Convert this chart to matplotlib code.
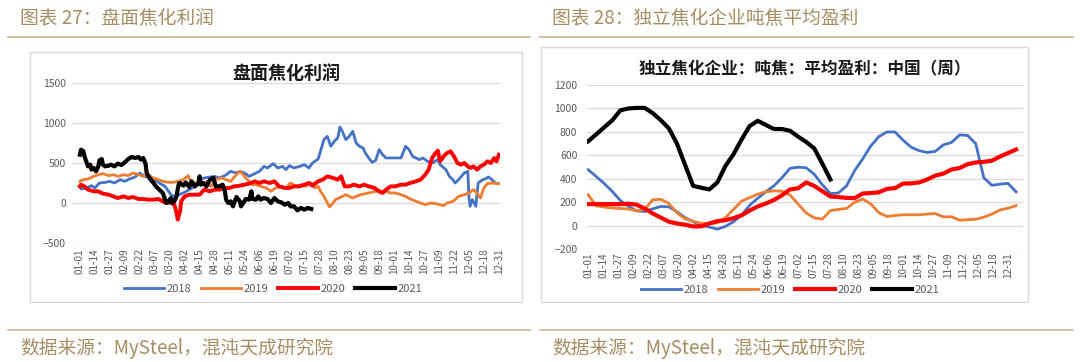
import matplotlib.pyplot as plt
from matplotlib.patches import Rectangle
from matplotlib.lines import Line2D

plt.rcParams['font.family'] = ['Noto Sans CJK SC', 'DejaVu Sans']

# ---------------------------------------------------------------------------
# 数据
# ---------------------------------------------------------------------------
tick_days = list(range(0, 365, 13))
tick_labels = ['01-01', '01-14', '01-27', '02-09', '02-22', '03-07', '03-20', '04-02',
               '04-15', '04-28', '05-11', '05-24', '06-06', '06-19', '07-02', '07-15',
               '07-28', '08-10', '08-23', '09-05', '09-18', '10-01', '10-14', '10-27',
               '11-09', '11-22', '12-05', '12-18', '12-31']
years = ['2018', '2019', '2020', '2021']
colors = ['#4472C4', '#ED7D31', '#FF0000', '#000000']

# 图27 盘面焦化利润 (日度)
pm18_day = [0, 1, 6, 10, 13, 17, 22, 26, 30, 35, 39, 43, 48, 52, 56, 61, 65, 69, 74, 77,
            79, 82, 86, 91, 95, 100, 104, 108, 113, 117, 121, 126, 131, 136, 139, 143, 147,
            152, 156, 160, 163, 168, 172, 176, 179, 182, 186, 191, 195, 199, 202, 207, 209,
            212, 215, 218, 221, 224, 226, 228, 231, 234, 237, 240, 243, 246, 248, 251, 254,
            257, 260, 263, 266, 270, 274, 279, 283, 286, 289, 292, 295, 298, 302, 306, 311,
            313, 318, 321, 324, 326, 329, 334, 337, 338, 339, 341, 344, 346, 350, 352, 355,
            358, 361, 364]
pm18_val = [208, 175, 188, 217, 188, 250, 258, 271, 250, 292, 271, 300, 325, 375, 333, 313,
            292, 250, 208, 146, 104, 83, 104, 133, 167, 208, 292, 313, 325, 333, 313, 342,
            396, 375, 396, 375, 333, 367, 396, 458, 438, 492, 438, 458, 417, 467, 438, 458,
            479, 438, 500, 550, 646, 792, 833, 708, 771, 813, 950, 896, 792, 833, 896, 750,
            708, 688, 625, 563, 508, 533, 667, 604, 563, 563, 563, 563, 708, 667, 583, 563,
            542, 563, 521, 500, 542, 479, 417, 333, 292, 250, 292, 375, 396, 83, -42, 42,
            -42, 250, 292, 300, 325, 292, 250, 242]

pm19_day = [0, 3, 7, 12, 16, 20, 25, 29, 33, 38, 42, 46, 51, 55, 59, 64, 68, 72, 77, 81,
            85, 90, 94, 97, 101, 105, 110, 114, 118, 123, 127, 131, 136, 139, 142, 144, 147,
            150, 153, 157, 162, 166, 170, 175, 179, 183, 188, 192, 196, 201, 204, 207, 209,
            212, 215, 217, 220, 222, 225, 228, 231, 234, 237, 240, 244, 248, 253, 257, 261,
            266, 270, 274, 279, 283, 287, 292, 296, 300, 305, 309, 313, 316, 319, 324, 326,
            329, 334, 338, 342, 345, 348, 351, 354, 358, 364]
pm19_val = [271, 292, 300, 333, 354, 367, 342, 354, 333, 354, 342, 375, 354, 333, 354, 313,
            292, 271, 258, 258, 271, 292, 342, 250, 250, 229, 271, 208, 292, 313, 292, 271,
            354, 396, 354, 313, 271, 229, 229, 208, 188, 146, 188, 208, 188, 250, 208, 229,
            208, 250, 188, 208, 146, 83, 0, -50, 0, 42, 62, 83, 104, 83, 62, 83, 104, 117,
            133, 146, 146, 146, 125, 125, 104, 83, 50, 21, 0, -21, 0, -8, -21, -33, 0, 21,
            42, 83, 104, 125, 167, 125, 62, 188, 242, 250, 242]

pm20_day = [0, 1, 4, 7, 12, 16, 20, 25, 29, 33, 38, 42, 46, 51, 55, 59, 64, 68, 72, 75,
            79, 82, 84, 85, 87, 88, 91, 95, 100, 104, 108, 113, 117, 121, 126, 130, 134, 139,
            143, 147, 152, 156, 160, 165, 169, 173, 178, 182, 186, 191, 195, 199, 202, 207,
            211, 215, 220, 224, 227, 230, 234, 238, 243, 247, 251, 256, 260, 263, 266, 270,
            274, 279, 283, 287, 292, 296, 300, 303, 306, 309, 311, 313, 316, 319, 322, 325,
            328, 331, 334, 337, 339, 342, 345, 348, 351, 354, 357, 360, 362, 364]
pm20_val = [208, 229, 208, 167, 146, 146, 117, 104, 83, 62, 83, 62, 75, 50, 50, 42, 42, 50,
            21, 0, 8, -21, -125, -208, -104, 21, 83, 104, 104, 104, 167, 146, 167, 167, 188,
            188, 208, 217, 229, 242, 271, 250, 271, 250, 271, 208, 188, 188, 208, 208, 229,
            250, 217, 271, 292, 333, 313, 292, 333, 208, 208, 229, 208, 229, 208, 188, 146,
            125, 167, 208, 208, 229, 229, 250, 271, 292, 354, 417, 563, 625, 654, 521, 583,
            625, 646, 583, 500, 479, 500, 458, 438, 458, 417, 458, 479, 521, 500, 563, 521,
            604]

pm21_day = [0, 1, 3, 4, 6, 7, 9, 10, 12, 14, 16, 17, 19, 20, 22, 25, 27, 30, 33, 36, 39,
            42, 45, 48, 51, 53, 55, 57, 58, 61, 64, 66, 69, 72, 74, 75, 77, 79, 80, 82, 84,
            85, 86, 87, 90, 92, 95, 97, 100, 103, 104, 105, 107, 110, 113, 116, 118, 121,
            124, 126, 127, 129, 131, 133, 134, 136, 139, 140, 142, 144, 147, 149, 150, 153,
            155, 157, 160, 163, 166, 169, 172, 175, 178, 181, 183, 186, 189, 192, 195, 198,
            201]
pm21_val = [604, 667, 646, 583, 500, 458, 479, 417, 438, 396, 458, 533, 550, 479, 458, 467,
            479, 458, 492, 475, 508, 550, 575, 563, 575, 542, 563, 492, 375, 300, 250, 208,
            167, 125, 42, 0, 21, 62, 0, 21, 83, 175, 242, 250, 217, 258, 200, 271, 208, 250,
            333, 229, 250, 208, 292, 313, 208, 208, 229, 146, 42, 0, 21, -42, 0, 75, 21, -42,
            0, 50, 42, 146, 50, 42, 83, 42, 62, 50, 0, 62, 21, 8, -21, 0, -42, -42, -92, -62,
            -83, -62, -75]

# 图28 独立焦化企业吨焦平均盈利 (周度)
wk18 = [478, 420, 360, 292, 215, 165, 128, 122, 145, 165, 162, 120, 70, 35, 5, -10, -28, -5,
        35, 90, 175, 235, 290, 340, 410, 490, 500, 495, 440, 350, 275, 280, 340, 470, 570,
        680, 760, 800, 800, 730, 670, 640, 625, 635, 690, 710, 775, 770, 700, 410, 345, 355,
        362, 290]
wk19 = [265, 170, 160, 152, 148, 143, 128, 140, 222, 226, 190, 110, 60, 38, 22, 18, 25, 70,
        140, 210, 240, 270, 290, 298, 295, 263, 185, 110, 68, 57, 130, 140, 148, 200, 228,
        187, 112, 80, 88, 94, 94, 94, 100, 105, 76, 78, 48, 52, 56, 74, 100, 135, 150, 172]
wk20 = [185, 185, 185, 185, 185, 188, 180, 148, 105, 70, 35, 20, 10, -5, -5, 20, 40, 48, 65,
        90, 130, 165, 190, 220, 260, 310, 320, 370, 340, 295, 250, 245, 238, 236, 275, 280,
        285, 315, 321, 360, 362, 370, 395, 428, 445, 480, 492, 525, 540, 545, 555, 590, 620,
        650]
wk21 = [720, 780, 840, 900, 985, 1000, 1005, 1005, 960, 900, 830, 700, 520, 340, 325, 310,
        370, 510, 610, 735, 850, 895, 860, 825, 825, 810, 760, 715, 660, 530, 395]

# ---------------------------------------------------------------------------
# 画布
# ---------------------------------------------------------------------------
fig = plt.figure(figsize=(10.8, 3.62), dpi=100)
W, H = 1080, 362


def fx(px):
    return px / W


def fy(py):
    return 1 - py / H


gold = '#A68D62'
gold_line = '#CDB893'

# 表头与来源
for x0, x1, head in [(8, 530, '图表 27：盘面焦化利润'), (540, 1073, '图表 28：独立焦化企业吨焦平均盈利')]:
    fig.text(fx(x0 + 12), fy(19), head, color=gold, fontsize=13.5, va='center', ha='left')
    fig.add_artist(Line2D([fx(x0), fx(x1)], [fy(37), fy(37)], color=gold_line, lw=1.2))
    fig.add_artist(Line2D([fx(x0), fx(x1)], [fy(330), fy(330)], color=gold_line, lw=1.2))
    fig.text(fx(x0 + 12), fy(348), '数据来源：MySteel，混沌天成研究院', color=gold,
             fontsize=13.5, va='center', ha='left')

# 图框
for x0, y0, x1, y1 in [(30, 52, 522, 302), (541, 47, 1028, 302)]:
    fig.add_artist(Rectangle((fx(x0), fy(y1)), fx(x1) - fx(x0), fy(y0) - fy(y1),
                             fill=False, edgecolor='#D9D9D9', lw=1.0))


def style_axes(ax, yticks, pad_y, pad_x):
    for s in ax.spines.values():
        s.set_visible(False)
    ax.set_yticks(yticks)
    ax.set_xticks(tick_days)
    ax.set_xticklabels(tick_labels, rotation=90)
    ax.tick_params(axis='both', length=0, colors='#595959', labelsize=7.5)
    ax.tick_params(axis='y', pad=pad_y)
    ax.tick_params(axis='x', pad=pad_x, labelsize=7.2)
    ax.grid(axis='y', color='#D9D9D9', lw=0.9)
    ax.set_axisbelow(True)


# 左图
ax1 = fig.add_axes([fx(73), fy(243), fx(500) - fx(73), fy(83) - fy(243)])
lw1 = [2.0, 2.0, 2.8, 3.0]
for d, v, c, lab, lw in zip([pm18_day, pm19_day, pm20_day, pm21_day],
                            [pm18_val, pm19_val, pm20_val, pm21_val], colors, years, lw1):
    ax1.plot(d, v, color=c, lw=lw, label=lab, solid_joinstyle='round')
ax1.set_xlim(-6, 365)
ax1.set_ylim(-500, 1500)
style_axes(ax1, [-500, 0, 500, 1000, 1500], 5, 4)
ax1.set_title('盘面焦化利润', fontsize=13, fontweight='bold', pad=3, color='#1a1a1a')
ax1.legend(loc='center', bbox_to_anchor=(fx(273), fy(289)), bbox_transform=fig.transFigure,
           ncol=4, frameon=False, fontsize=8, handlelength=3.6, handletextpad=0.2,
           columnspacing=0.9, labelcolor='#595959')

# 右图
ax2 = fig.add_axes([fx(587), fy(249.3), fx(1023) - fx(587), fy(85) - fy(249.3)])
lw2 = [2.0, 2.0, 3.0, 3.0]
for v, c, lab, lw in zip([wk18, wk19, wk20, wk21], colors, years, lw2):
    ax2.plot([7 * i for i in range(len(v))], v, color=c, lw=lw, label=lab,
             solid_joinstyle='round')
ax2.set_xlim(-1, 377)
ax2.set_ylim(-200, 1200)
style_axes(ax2, list(range(-200, 1201, 200)), 7, 2)
ax2.set_title('独立焦化企业：吨焦：平均盈利：中国（周）', fontsize=12, fontweight='bold',
              pad=8, color='#1a1a1a')
ax2.legend(loc='center', bbox_to_anchor=(fx(790), fy(290)), bbox_transform=fig.transFigure,
           ncol=4, frameon=False, fontsize=8, handlelength=3.6, handletextpad=0.2,
           columnspacing=0.9, labelcolor='#595959')

fig.savefig('out.png', dpi=100)
